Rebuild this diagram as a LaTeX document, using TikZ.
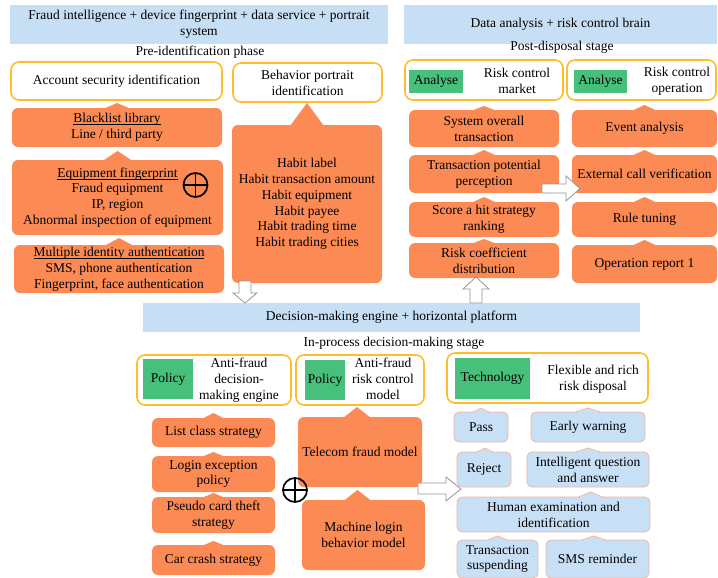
\documentclass[tikz,border=0pt]{standalone}
\usepackage{fontspec}
\setmainfont{Liberation Serif}
\definecolor{orng}{RGB}{252,138,84}
\definecolor{bannerblue}{RGB}{199,223,245}
\definecolor{gold}{RGB}{255,190,40}
\definecolor{greenb}{RGB}{70,192,122}
\definecolor{lblue}{RGB}{200,224,246}
\definecolor{salmon}{RGB}{245,180,160}
\definecolor{arrgray}{RGB}{150,150,150}
\newsavebox\ulbox
\newcommand\ulx[1]{\sbox\ulbox{#1}\rlap{\vrule height -1.4pt depth 2.1pt width \wd\ulbox}\usebox\ulbox}
\tikzset{
  base/.style={font=\fontsize{13.5}{15.8}\selectfont, align=center, inner sep=0pt, outer sep=0pt},
  banner/.style={base, fill=bannerblue},
  ybox/.style={base, draw=gold, line width=1.6pt, rounded corners=8pt, fill=white},
  gbox/.style={base, fill=greenb},
  obox/.style={base, fill=orng, rounded corners=6pt},
  bbox/.style={base, fill=lblue, draw=salmon, line width=0.8pt, rounded corners=5pt},
  lbl/.style={base},
  plusc/.style={circle, draw, line width=1.7pt, minimum size=24pt, inner sep=0pt, outer sep=0pt},
  harrow/.style={draw=arrgray, fill=white, line width=0.8pt, line join=miter},
}
% style, name, x1, y1, x2, y2, text
\newcommand\bx[7]{\node[#1, minimum width={#5pt-#3pt}, minimum height={#6pt-#4pt}] (#2) at ({(#3+#5)/2},{(#4+#6)/2}) {#7};}
% name, dx, halfwidth, height
\newcommand\optr[4]{\fill[orng] ([xshift=#2pt-#3pt,yshift=-1pt]#1.north) -- ([xshift=#2pt,yshift=#4pt]#1.north) -- ([xshift=#2pt+#3pt,yshift=-1pt]#1.north) -- cycle;}
\newcommand\bptr[4]{\fill[lblue] ([xshift=#2pt-#3pt,yshift=-1.2pt]#1.north) -- ([xshift=#2pt,yshift=#4pt]#1.north) -- ([xshift=#2pt+#3pt,yshift=-1.2pt]#1.north) -- cycle;
  \draw[salmon,line width=0.8pt] ([xshift=#2pt-#3pt]#1.north) -- ([xshift=#2pt,yshift=#4pt]#1.north) -- ([xshift=#2pt+#3pt]#1.north);}
\newcommand\plusmark[2]{\node[plusc] (#1) at (#2) {};
  \draw[line width=1.7pt] (#1.north) -- (#1.south) (#1.west) -- (#1.east);}
\begin{document}
\begin{tikzpicture}[x=1pt,y=-1pt]
\useasboundingbox (0,0) rectangle (718,578);
\fill[white] (0,0) rectangle (718,578);
% banners
\bx{banner}{ban1}{10}{5}{388}{44}{Fraud intelligence + device fingerprint + data service + portrait\\system}
\bx{banner}{ban2}{404}{5}{717}{44}{Data analysis + risk control brain}
\bx{banner}{ban3}{143}{303}{640}{332}{Decision-making engine + horizontal platform}
\node[lbl] (st1) at (200,52) {Pre-identification phase};
\node[lbl] (st2) at (562,47) {Post-disposal stage};
\node[lbl] (st3) at (394,343) {In-process decision-making stage};
% yellow header boxes
\bx{ybox}{acc}{11}{62}{222}{100}{Account security identification}
\bx{ybox}{beh}{233}{63}{382}{102}{Behavior portrait\\identification}
\bx{ybox}{am}{405}{60}{563}{100}{}
\bx{ybox}{ao}{567}{60}{716}{100}{}
\bx{ybox}{pol1}{137}{355}{291}{405}{}
\bx{ybox}{pol2}{296}{355}{424}{405}{}
\bx{ybox}{tech}{447}{353}{648}{403}{}
% green labels
\bx{gbox}{g1}{409}{70}{463}{93}{Analyse}
\bx{gbox}{g2}{574}{70}{627}{93}{Analyse}
\bx{gbox}{g3}{143}{359}{193}{399}{Policy}
\bx{gbox}{g4}{305}{360}{345}{400}{Policy}
\bx{gbox}{g5}{455}{358}{530}{399}{Technology}
\node[lbl] (t1) at (517,81) {Risk control\\market};
\node[lbl] (t2) at (677,81) {Risk control\\operation};
\node[lbl] (t3) at (239,380) {Anti-fraud\\decision-\\making engine};
\node[lbl] (t4) at (383,379) {Anti-fraud\\risk control\\model};
\node[lbl] (t5) at (593,379) {Flexible and rich\\risk disposal};
% orange pre-identification
\bx{obox}{bl}{12}{108}{222}{147}{\ulx{Blacklist library}\\Line / third party}
\bx{obox}{ef}{12}{160}{223}{235}{\ulx{Equipment fingerprint}\\Fraud equipment\\IP, region\\Abnormal inspection of equipment}
\bx{obox}{mi}{14}{245}{224}{293}{\ulx{Multiple identity authentication}\\SMS, phone authentication\\Fingerprint, face authentication}
\bx{obox}{bo}{232}{125}{382}{283}{Habit label\\Habit transaction amount\\Habit equipment\\Habit payee\\Habit trading time\\Habit trading cities}
\optr{bl}{0}{14}{5}
\optr{ef}{0}{15}{9}
\optr{mi}{0}{15}{7}
\optr{bo}{0}{17}{22}
% orange post-disposal
\bx{obox}{so}{409}{110}{559}{147}{System overall\\transaction}
\bx{obox}{tp}{409}{155}{559}{193}{Transaction potential\\perception}
\bx{obox}{sh}{409}{202}{559}{237}{Score a hit strategy\\ranking}
\bx{obox}{rc}{409}{243}{559}{278}{Risk coefficient\\distribution}
\bx{obox}{ea}{572}{110}{717}{147}{Event analysis}
\bx{obox}{ec}{572}{155}{717}{193}{External call verification}
\bx{obox}{rt}{572}{202}{717}{237}{Rule tuning}
\bx{obox}{orp}{572}{245}{717}{283}{Operation report 1}
\optr{so}{0}{13}{4}
\optr{tp}{0}{13}{5}
\optr{sh}{0}{13}{5}
\optr{rc}{0}{13}{4}
\optr{ea}{0}{13}{5}
\optr{ec}{0}{13}{5}
\optr{rt}{0}{13}{5}
\optr{orp}{0}{13}{5}
% orange in-process
\bx{obox}{lc}{152}{418}{275}{447}{List class strategy}
\bx{obox}{le}{152}{456}{275}{492}{Login exception\\policy}
\bx{obox}{pc}{152}{497}{275}{533}{Pseudo card theft\\strategy}
\bx{obox}{cc}{152}{545}{275}{575}{Car crash strategy}
\bx{obox}{tf}{298}{417}{422}{487}{Telecom fraud model}
\bx{obox}{ml}{302}{500}{425}{570}{Machine login\\behavior model}
\optr{lc}{0}{12}{5}
\optr{le}{0}{12}{4}
\optr{pc}{0}{12}{4}
\optr{cc}{0}{12}{4}
\optr{tf}{-3}{14}{10}
\optr{ml}{-6}{14}{10}
% blue disposal boxes
\bx{bbox}{pass}{454}{412}{508}{442}{Pass}
\bx{bbox}{ew}{531}{412}{645}{442}{Early warning}
\bx{bbox}{rej}{457}{452}{511}{487}{Reject}
\bx{bbox}{iq}{527}{452}{649}{487}{Intelligent question\\and answer}
\bx{bbox}{he}{457}{497}{650}{532}{Human examination and\\identification}
\bx{bbox}{ts}{457}{540}{538}{578}{Transaction\\suspending}
\bx{bbox}{sms}{546}{540}{649}{578}{SMS reminder}
\bptr{pass}{0}{8}{4}
\bptr{ew}{0}{12}{4}
\bptr{rej}{1}{8}{4}
\bptr{iq}{0}{12}{4}
\bptr{he}{37}{12}{5}
\bptr{ts}{0}{10}{4}
\bptr{sms}{-4}{12}{4}
% hollow block arrows
\draw[harrow] (239,281) -- (251,281) -- (251,293) -- (257,293) -- (245,303) -- (233,293) -- (239,293) -- cycle;
\draw[harrow] (470,303) -- (482,303) -- (482,289) -- (489,289) -- (476,277) -- (463,289) -- (470,289) -- cycle;
\draw[harrow] (542,184) -- (566,184) -- (566,176) -- (580,188.5) -- (566,201) -- (566,193) -- (542,193) -- cycle;
\draw[harrow] (418,483) -- (446,483) -- (446,477) -- (461,489) -- (446,501) -- (446,494) -- (418,494) -- cycle;
% plus marks
\plusmark{px1}{195.5,185}
\plusmark{px2}{295,490}
\end{tikzpicture}
\end{document}
